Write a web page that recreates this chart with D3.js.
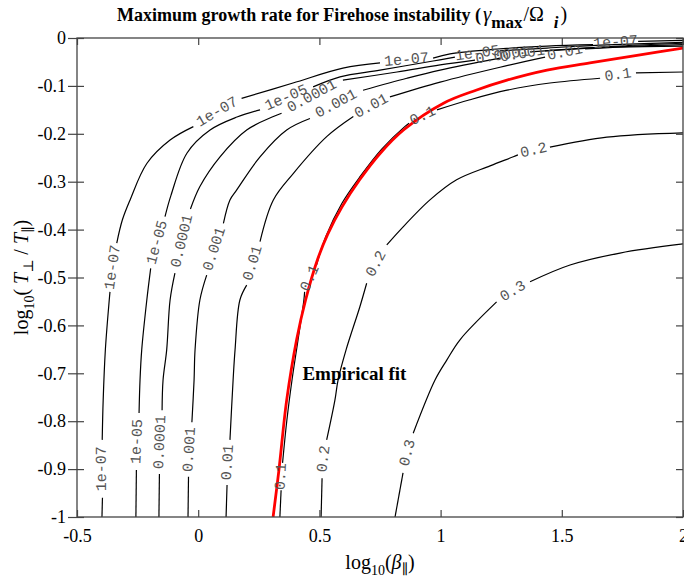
<!DOCTYPE html>
<html>
<head>
<meta charset="utf-8">
<script src="https://cdn.jsdelivr.net/npm/d3@7/dist/d3.min.js"></script>
<style>
  body { margin: 0; background: #fff; }
  svg text { font-family: "Liberation Serif", "DejaVu Serif", serif; }
  .clabel { font-family: "Liberation Mono", monospace; font-size: 15px; fill: #555; }
  .tick text { font-size: 18px; fill: #000; }
</style>
</head>
<body>
<svg id="chart" width="684" height="580"></svg>
<script>
// axis ticks
var xTicks = [-0.5, 0, 0.5, 1, 1.5, 2]
var yTicks = [0, -0.1, -0.2, -0.3, -0.4, -0.5, -0.6, -0.7, -0.8, -0.9, -1]

// contour levels
var levels = ['1e-07', '1e-05', '0.0001', '0.001', '0.01', '0.1', '0.2', '0.3']

// each contour is a list of pieces [log10(beta), log10(Tperp/Tpar)], the label sits in the gap between pieces
var c1e07 = [
  [[-0.397, -1.0], [-0.395, -0.960]],
  [[-0.396, -0.839], [-0.392, -0.756], [-0.383, -0.651], [-0.367, -0.547], [-0.364, -0.530]],
  [[-0.336, -0.428], [-0.313, -0.380], [-0.281, -0.338], [-0.212, -0.262], [-0.116, -0.213], [-0.020, -0.185]],
  [[0.179, -0.126], [0.391, -0.094], [0.597, -0.063], [0.750, -0.052]],
  [[0.969, -0.042], [1.039, -0.033], [1.233, -0.023], [1.439, -0.017], [1.629, -0.014]],
  [[1.815, -0.007], [2.0, -0.005]]
]
var c1e05 = [
  [[-0.257, -1.0], [-0.255, -0.902]],
  [[-0.244, -0.783], [-0.240, -0.714], [-0.233, -0.651], [-0.212, -0.547], [-0.196, -0.481]],
  [[-0.137, -0.373], [-0.112, -0.328], [-0.046, -0.240], [0.049, -0.192], [0.160, -0.165], [0.255, -0.150]],
  [[0.474, -0.102], [0.585, -0.081], [0.750, -0.067], [0.969, -0.048], [1.059, -0.040]],
  [[1.245, -0.027], [1.439, -0.021], [1.658, -0.015], [2.0, -0.009]]
]
var c1e04 = [
  [[-0.162, -1.0], [-0.160, -0.910]],
  [[-0.149, -0.777], [-0.145, -0.714], [-0.130, -0.651], [-0.116, -0.547], [-0.096, -0.491]],
  [[-0.032, -0.357], [0.007, -0.310], [0.090, -0.248], [0.200, -0.192], [0.310, -0.164], [0.344, -0.157]],
  [[0.597, -0.088], [0.820, -0.071], [0.998, -0.056], [1.142, -0.046]],
  [[1.369, -0.029], [1.658, -0.019], [2.0, -0.011]]
]
var c1e03 = [
  [[-0.042, -1.0], [-0.040, -0.916]],
  [[-0.026, -0.802], [-0.017, -0.714], [-0.013, -0.651], [0.007, -0.547], [0.035, -0.495]],
  [[0.104, -0.387], [0.131, -0.338], [0.159, -0.317], [0.255, -0.248], [0.365, -0.192], [0.461, -0.168]],
  [[0.680, -0.109], [0.861, -0.084], [0.998, -0.067], [1.245, -0.042]],
  [[1.431, -0.027], [1.658, -0.020], [2.0, -0.014]]
]
var c1e02 = [
  [[0.115, -1.0], [0.119, -0.933]],
  [[0.131, -0.839], [0.144, -0.714], [0.152, -0.651], [0.172, -0.547], [0.200, -0.516]],
  [[0.255, -0.425], [0.310, -0.338], [0.392, -0.283], [0.530, -0.206], [0.640, -0.164]],
  [[0.791, -0.123], [0.998, -0.092], [1.245, -0.061], [1.431, -0.040]],
  [[1.596, -0.023], [1.740, -0.019], [2.0, -0.017]]
]
var c01 = [
  [[0.337, -1.0], [0.342, -0.944]],
  [[0.348, -0.887], [0.366, -0.797], [0.387, -0.714], [0.412, -0.630], [0.436, -0.547], [0.439, -0.530]],
  [[0.488, -0.474], [0.527, -0.414], [0.593, -0.345], [0.670, -0.288], [0.757, -0.232], [0.852, -0.185], [0.870, -0.178]],
  [[0.985, -0.150], [1.121, -0.129], [1.274, -0.109], [1.451, -0.094], [1.658, -0.084]],
  [[1.806, -0.073], [2.0, -0.071]]
]
var c02 = [
  [[0.507, -1.0], [0.511, -0.919]],
  [[0.530, -0.839], [0.564, -0.756], [0.577, -0.714], [0.610, -0.651], [0.667, -0.561], [0.695, -0.512]],
  [[0.778, -0.432], [0.833, -0.401], [0.956, -0.338], [1.066, -0.296], [1.204, -0.267], [1.300, -0.248], [1.319, -0.244]],
  [[1.451, -0.228], [1.686, -0.207], [2.0, -0.198]]
]
var c03 = [
  [[0.812, -1.0], [0.845, -0.908]],
  [[0.887, -0.825], [0.977, -0.714], [1.026, -0.672], [1.080, -0.630], [1.231, -0.551]],
  [[1.369, -0.509], [1.534, -0.474], [1.740, -0.449], [2.0, -0.430]]
]

// red empirical fit curve
var fitPoints = [
  [0.309, -1.0], [0.333, -0.902], [0.365, -0.756], [0.406, -0.630], [0.443, -0.547],
  [0.492, -0.463], [0.534, -0.410], [0.594, -0.352], [0.666, -0.296], [0.752, -0.240],
  [0.847, -0.192], [1.012, -0.136], [1.146, -0.109], [1.274, -0.088], [1.439, -0.067],
  [1.616, -0.052], [1.823, -0.035], [2.0, -0.021]
]

var contourPieces = [c1e07, c1e05, c1e04, c1e03, c1e02, c01, c02, c03]

var svg = d3.select('#chart')
var box = {left: 77, right: 683, top: 38, bottom: 517}

var xScale = d3.scaleLinear().domain([-0.5, 2]).range([box.left, box.right])
var yScale = d3.scaleLinear().domain([-1, 0]).range([box.bottom, box.top])

svg.append('defs').append('clipPath').attr('id', 'plotClip')
  .append('rect')
  .attr('x', box.left).attr('y', box.top)
  .attr('width', box.right - box.left).attr('height', box.bottom - box.top)

var plot = svg.append('g').attr('clip-path', 'url(#plotClip)')

var line = d3.line()
  .x(function (d) { return xScale(d[0]) })
  .y(function (d) { return yScale(d[1]) })
  .curve(d3.curveCatmullRom)

// contour lines with labels in the gaps
contourPieces.forEach(function (pieces, k) {
  plot.selectAll(null)
    .data(pieces)
    .enter()
    .append('path')
    .attr('d', line)
    .attr('fill', 'none')
    .attr('stroke', '#000')
    .attr('stroke-width', 1.2)

  for (var i = 0; i < pieces.length - 1; i++) {
    var a = pieces[i][pieces[i].length - 1]
    var b = pieces[i + 1][0]
    var ax = xScale(a[0]), ay = yScale(a[1])
    var bx = xScale(b[0]), by = yScale(b[1])
    var ang = Math.atan2(by - ay, bx - ax) * 180 / Math.PI
    svg.append('text')
      .attr('class', 'clabel')
      .attr('text-anchor', 'middle')
      .attr('dominant-baseline', 'central')
      .attr('transform', 'translate(' + (ax + bx) / 2 + ',' + (ay + by) / 2 + ') rotate(' + ang + ')')
      .text(levels[k])
  }
})

plot.append('path')
  .datum(fitPoints)
  .attr('d', line)
  .attr('fill', 'none')
  .attr('stroke', '#ff0000')
  .attr('stroke-width', 2.8)

svg.append('text')
  .attr('x', xScale(0.43))
  .attr('y', yScale(-0.714))
  .attr('font-size', 19)
  .attr('font-weight', 'bold')
  .text('Empirical fit')

// axes: ticks inward, the left ones also cross outward
var fmt = function (d) { return String(d) }
var xAxisB = d3.axisBottom(xScale).tickValues(xTicks).tickFormat(fmt).tickSizeInner(-7).tickSizeOuter(0).tickPadding(12)
var xAxisT = d3.axisTop(xScale).tickValues(xTicks).tickFormat('').tickSizeInner(-7).tickSizeOuter(0)
var yAxisL = d3.axisLeft(yScale).tickValues(yTicks).tickFormat(fmt).tickSizeInner(-7).tickSizeOuter(0).tickPadding(11)
var yAxisLo = d3.axisLeft(yScale).tickValues(yTicks).tickFormat('').tickSizeInner(9).tickSizeOuter(0)
var yAxisR = d3.axisRight(yScale).tickValues(yTicks).tickFormat('').tickSizeInner(-7).tickSizeOuter(0)

var gB = svg.append('g').attr('transform', 'translate(0,' + box.bottom + ')').call(xAxisB)
var gT = svg.append('g').attr('transform', 'translate(0,' + box.top + ')').call(xAxisT)
var gL = svg.append('g').attr('transform', 'translate(' + box.left + ',0)').call(yAxisL)
var gLo = svg.append('g').attr('transform', 'translate(' + box.left + ',0)').call(yAxisLo)
var gR = svg.append('g').attr('transform', 'translate(' + box.right + ',0)').call(yAxisR)

;[gB, gT, gL, gLo, gR].forEach(function (g) {
  g.select('.domain').remove()
  g.selectAll('.tick line').attr('stroke', '#444').attr('stroke-width', 1.2)
})

svg.append('rect')
  .attr('x', box.left).attr('y', box.top)
  .attr('width', box.right - box.left).attr('height', box.bottom - box.top)
  .attr('fill', 'none')
  .attr('stroke', '#444')
  .attr('stroke-width', 1.3)

// title
var title = svg.append('text')
  .attr('x', 117)
  .attr('y', 21)
  .attr('font-size', 18)
title.append('tspan').attr('font-weight', 'bold').text('Maximum growth rate for Firehose instability (')
title.append('tspan').attr('font-style', 'italic').attr('font-size', 21).attr('dx', 2).text('γ')
title.append('tspan').attr('font-weight', 'bold').attr('font-size', 17).attr('dy', 7).text('max')
title.append('tspan').attr('font-size', 20).attr('dy', -7).attr('dx', 1).text('/Ω')
title.append('tspan').attr('font-weight', 'bold').attr('font-style', 'italic').attr('font-size', 17).attr('dy', 7).attr('dx', 10).text('i')
title.append('tspan').attr('font-size', 20).attr('dy', -7).attr('dx', 2).text(')')

// x label
var xl = svg.append('text')
  .attr('x', (box.left + box.right) / 2)
  .attr('y', 569)
  .attr('text-anchor', 'middle')
  .attr('font-size', 20)
xl.append('tspan').text('log')
xl.append('tspan').attr('font-size', 14).attr('dy', 6).text('10')
xl.append('tspan').attr('dy', -6).text('(')
xl.append('tspan').attr('font-style', 'italic').text('β')
xl.append('tspan').attr('font-size', 14).attr('dy', 5).text('∥')
xl.append('tspan').attr('dy', -5).text(')')

// y label
var yl = svg.append('text')
  .attr('transform', 'translate(28,' + (box.top + box.bottom) / 2 + ') rotate(-90)')
  .attr('text-anchor', 'middle')
  .attr('font-size', 20)
yl.append('tspan').text('log')
yl.append('tspan').attr('font-size', 14).attr('dy', 6).text('10')
yl.append('tspan').attr('dy', -6).text('( ')
yl.append('tspan').attr('font-style', 'italic').text('T')
yl.append('tspan').attr('font-size', 14).attr('dy', 5).text('⊥')
yl.append('tspan').attr('dy', -5).text(' / ')
yl.append('tspan').attr('font-style', 'italic').text('T')
yl.append('tspan').attr('font-size', 14).attr('dy', 5).text('∥')
yl.append('tspan').attr('dy', -5).text(')')
</script>
</body>
</html>
